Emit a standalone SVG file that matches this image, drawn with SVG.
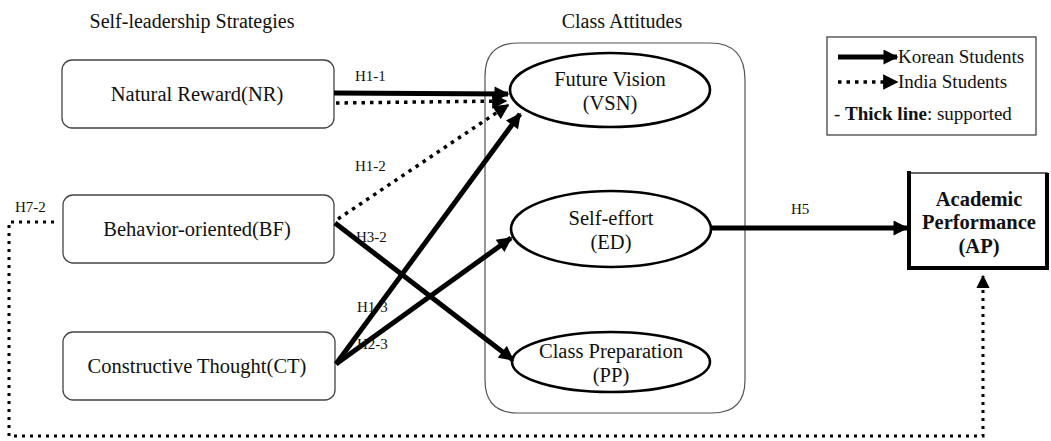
<svg xmlns="http://www.w3.org/2000/svg" width="1051" height="441" viewBox="0 0 1051 441" font-family="'Liberation Serif', 'DejaVu Serif', serif">
  <style>
    text { font-family: "Liberation Serif", "DejaVu Serif", serif; fill: #111; }
    .title { font-size: 20px; }
    .node-text { font-size: 20.5px; text-anchor: middle; }
    .label { font-size: 15px; }
    .legend { font-size: 19px; }
    .box { fill: #fff; stroke: #444; stroke-width: 1.3; }
    .oval { fill: #fff; stroke: #000; stroke-width: 2.6; }
    .solid { fill: none; stroke: #000; stroke-width: 5; }
    .dotted { fill: none; stroke: #000; stroke-width: 3.5; stroke-dasharray: 3.5 5; }
    .thin-dotted { fill: none; stroke: #000; stroke-width: 3; stroke-dasharray: 3 5; }
  </style>
  <defs>
    <marker id="head" viewBox="0 0 10 10" refX="9" refY="5" markerWidth="3.4" markerHeight="3" markerUnits="strokeWidth" orient="auto">
      <path d="M0,0 L10,5 L0,10 z" fill="#000"/>
    </marker>
    <marker id="head-dot" viewBox="0 0 10 10" refX="9" refY="5" markerWidth="5" markerHeight="4.4" markerUnits="strokeWidth" orient="auto">
      <path d="M0,0 L10,5 L0,10 z" fill="#000"/>
    </marker>
  </defs>

  <rect width="1051" height="441" fill="#fff"/>

  <!-- column headings -->
  <text class="title" x="192" y="28" text-anchor="middle">Self-leadership Strategies</text>
  <text class="title" x="622" y="28" text-anchor="middle">Class Attitudes</text>

  <!-- container around the class attitude constructs -->
  <path id="class-attitudes" d="M518,43 L710,43 Q745,43 745,80 L745,380 Q745,413 712,413 L518,413 Q485,413 485,380 L485,76 Q485,43 518,43 Z" fill="none" stroke="#555" stroke-width="1.2"/>

  <!-- strategy nodes -->
  <g id="node-nr">
    <rect class="box" x="62" y="60" width="272" height="68" rx="10"/>
    <text class="node-text" x="197" y="101">Natural Reward(NR)</text>
  </g>
  <g id="node-bf">
    <rect class="box" x="63" y="195" width="271" height="68" rx="10"/>
    <text class="node-text" x="197" y="236">Behavior-oriented(BF)</text>
  </g>
  <g id="node-ct">
    <rect class="box" x="63" y="332" width="272" height="68" rx="10"/>
    <text class="node-text" x="197" y="373">Constructive Thought(CT)</text>
  </g>

  <!-- attitude nodes -->
  <g id="node-vsn">
    <ellipse class="oval" cx="610" cy="90" rx="100" ry="37"/>
    <text class="node-text" x="610" y="86">Future Vision</text>
    <text class="node-text" x="610" y="110">(VSN)</text>
  </g>
  <g id="node-ed">
    <ellipse class="oval" cx="611" cy="229" rx="100" ry="38"/>
    <text class="node-text" x="611" y="225">Self-effort</text>
    <text class="node-text" x="611" y="249">(ED)</text>
  </g>
  <g id="node-pp">
    <ellipse class="oval" cx="611" cy="362" rx="99" ry="30"/>
    <text class="node-text" x="611" y="358">Class Preparation</text>
    <text class="node-text" x="611" y="382">(PP)</text>
  </g>

  <!-- outcome node -->
  <g id="node-ap">
    <rect x="909" y="173" width="138" height="95" fill="#fff" stroke="#000" stroke-width="1.2"/>
    <path d="M909,171 L909,268 L1047,268 L1047,173" fill="none" stroke="#000" stroke-width="4"/>
    <text class="node-text" x="979" y="206" font-weight="bold">Academic</text>
    <text class="node-text" x="979" y="229" font-weight="bold">Performance</text>
    <text class="node-text" x="979" y="253" font-weight="bold">(AP)</text>
  </g>

  <!-- paths between constructs -->
  <g id="connectors">
    <line class="solid" x1="334" y1="93" x2="508" y2="94" marker-end="url(#head)"/>
    <line class="dotted" x1="336" y1="103" x2="506" y2="101" marker-end="url(#head-dot)"/>
    <line class="dotted" x1="338" y1="219" x2="508" y2="105" marker-end="url(#head-dot)"/>
    <line class="solid" x1="336" y1="364" x2="520" y2="114" marker-end="url(#head)"/>
    <line class="solid" x1="336" y1="364" x2="511" y2="238" marker-end="url(#head)"/>
    <line class="solid" x1="335" y1="223" x2="513" y2="360" marker-end="url(#head)"/>
    <line class="solid" x1="711" y1="228" x2="907" y2="228" marker-end="url(#head)"/>
    <path class="thin-dotted" d="M54,222 L9,222 L9,436 L983,436 L983,276" marker-end="url(#head-dot)"/>

    <text class="label" x="355" y="81">H1-1</text>
    <text class="label" x="355" y="171">H1-2</text>
    <text class="label" x="356" y="242">H3-2</text>
    <text class="label" x="357" y="312">H1-3</text>
    <text class="label" x="357" y="349">H2-3</text>
    <text class="label" x="791" y="214">H5</text>
    <text class="label" x="15" y="212">H7-2</text>
  </g>

  <!-- legend -->
  <g id="legend">
    <rect x="827" y="37" width="209" height="98" fill="#fff" stroke="#444" stroke-width="1.3"/>
    <line class="solid" x1="838" y1="57" x2="897" y2="57" marker-end="url(#head)"/>
    <text class="legend" x="898" y="63">Korean Students</text>
    <line class="dotted" x1="838" y1="82" x2="897" y2="82" marker-end="url(#head-dot)"/>
    <text class="legend" x="898" y="88">India Students</text>
    <text class="legend" x="834" y="120">- <tspan font-weight="bold">Thick line</tspan>: supported</text>
  </g>
</svg>
